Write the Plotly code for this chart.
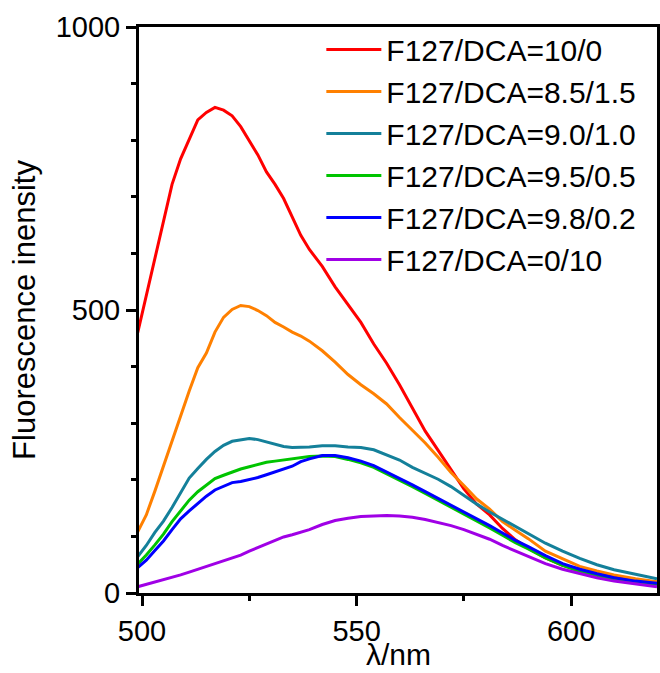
import plotly.graph_objects as go

# wavelength (nm)
wavelength = [499, 501, 503, 505, 507, 509, 511, 513, 515, 517, 519, 521, 523, 525, 527,
              529, 531, 533, 535, 537, 539, 542, 545, 548, 551, 554, 557, 560, 563, 566,
              569, 572, 575, 578, 581, 584, 587, 590, 594, 598, 602, 606, 610, 615, 620]

# fluorescence intensity for each F127/DCA ratio
f_10_0 = [460, 526, 590, 660, 722, 767, 803, 836, 849, 858, 853, 843, 824, 800, 774,
          744, 722, 697, 665, 632, 607, 577, 541, 510, 478, 440, 406, 368, 327, 286,
          252, 218, 184, 157, 138, 114, 94, 79, 62, 49, 41, 34, 28, 23, 19]
f_85_15 = [108, 138, 180, 225, 270, 315, 357, 398, 424, 461, 487, 501, 508, 506, 499,
           490, 478, 470, 461, 454, 445, 428, 408, 386, 368, 352, 334, 310, 287, 265,
           240, 213, 190, 166, 148, 126, 111, 96, 74, 60, 47, 39, 32, 25, 20]
f_90_10 = [64, 84, 107, 127, 151, 177, 203, 220, 236, 250, 261, 268, 271, 273, 271,
           267, 263, 259, 257, 257, 258, 260, 260, 258, 257, 253, 244, 235, 222, 212,
           201, 188, 172, 157, 143, 130, 117, 104, 88, 74, 61, 50, 41, 33, 25]
f_95_05 = [51, 67, 85, 104, 126, 145, 164, 179, 191, 202, 208, 214, 219, 223, 227,
           231, 233, 235, 237, 239, 241, 242, 241, 236, 230, 222, 211, 200, 188, 176,
           164, 152, 140, 127, 115, 102, 89, 78, 62, 49, 38, 30, 24, 18, 14]
f_98_02 = [45, 58, 75, 92, 112, 131, 145, 158, 171, 182, 189, 195, 197, 200, 204,
           209, 214, 219, 224, 232, 237, 243, 243, 239, 233, 225, 214, 203, 191, 179,
           167, 156, 144, 131, 119, 106, 93, 82, 66, 52, 42, 34, 27, 21, 17]
f_0_10 = [11, 15, 19, 23, 27, 32, 37, 42, 47, 52, 57, 62, 67, 74, 80,
          87, 93, 99, 103, 108, 112, 121, 128, 132, 135, 136, 137, 136, 134, 130,
          125, 119, 112, 104, 95, 84, 74, 64, 52, 42, 34, 27, 21, 16, 11]

names = ['F127/DCA=10/0', 'F127/DCA=8.5/1.5', 'F127/DCA=9.0/1.0',
         'F127/DCA=9.5/0.5', 'F127/DCA=9.8/0.2', 'F127/DCA=0/10']
series = [f_10_0, f_85_15, f_90_10, f_95_05, f_98_02, f_0_10]
colors = ['#FF0000', '#FF8000', '#14809A', '#00C400', '#0000FF', '#A000E6']

FONT = 'Liberation Sans, Arial, sans-serif'

fig = go.Figure()
for name, ys, c in zip(names, series, colors):
    fig.add_trace(go.Scatter(x=wavelength, y=ys, name=name, mode='lines',
                             line=dict(color=c, width=3)))

axis_common = dict(showline=True, linecolor='black', linewidth=3, mirror=True,
                   ticks='outside', ticklen=10, tickwidth=3, tickcolor='black',
                   showgrid=False, zeroline=False, automargin=False,
                   tickfont=dict(family=FONT, size=29, color='black'),
                   title_font=dict(family=FONT, size=31, color='black'))

fig.update_xaxes(range=[499.3, 620], tickvals=[500, 550, 600],
                 minor=dict(dtick=25, tick0=500, ticks='outside', ticklen=5,
                            tickwidth=3, tickcolor='black'),
                 **axis_common)
fig.update_yaxes(range=[0, 1000], tickvals=[0, 500, 1000],
                 minor=dict(dtick=100, tick0=0, ticks='outside', ticklen=5,
                            tickwidth=3, tickcolor='black'),
                 title_text='Fluorescence inensity', title_standoff=11, **axis_common)

# x title as an annotation, bottom kept inside the page
fig.add_annotation(text='λ/nm', xref='paper', yref='paper', x=0.5, y=-0.139,
                   xanchor='center', yanchor='bottom', showarrow=False, borderpad=0,
                   font=dict(family=FONT, size=30, color='black'))

fig.update_layout(
    width=660, height=673,
    margin=dict(l=139, r=3, t=27, b=80),
    plot_bgcolor='white', paper_bgcolor='white',
    font=dict(family=FONT, color='black'),
    showlegend=True,
    legend=dict(x=0.352, y=1.006, xanchor='left', yanchor='top',
                bgcolor='rgba(0,0,0,0)', itemwidth=55, tracegroupgap=0,
                font=dict(family=FONT, size=30, color='black')),
)

# drop the default 8px body margin so the figure fills the window exactly
fig.write_html("out.html", config={'displayModeBar': False},
               post_script="document.body.style.margin='0';")
